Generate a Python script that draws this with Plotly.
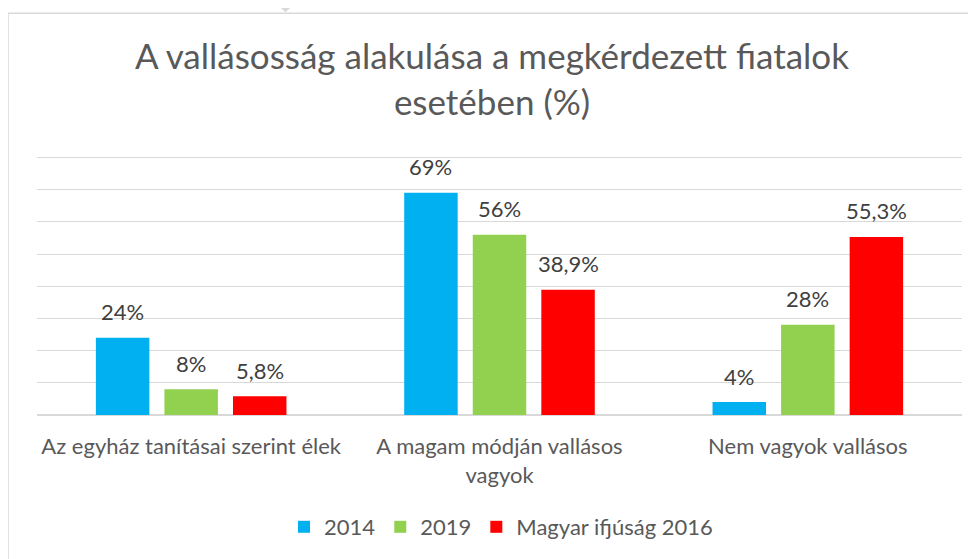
import plotly.graph_objects as go

categories = ["Az egyház tanításai szerint élek", "A magam módján vallásos<br>vagyok", "Nem vagyok vallásos"]
series_names = ["2014", "2019", "Magyar ifjúság 2016"]
values_2014 = [24, 69, 4]
values_2019 = [8, 56, 28]
values_2016 = [5.8, 38.9, 55.3]
labels_2014 = ["24%", "69%", "4%"]
labels_2019 = ["8%", "56%", "28%"]
labels_2016 = ["5,8%", "38,9%", "55,3%"]
grid_values = [0, 10, 20, 30, 40, 50, 60, 70, 80]
colors = ["#00b0f0", "#92d050", "#ff0000"]

# page body has an 8px margin, so figure coords = page coords - 8
OFF = 8
W, H = 976 - OFF, 559 - OFF
ML, MR, MT, MB = 37 - OFF, 14, 150.5 - OFF, 144
PW, PH = W - ML - MR, H - MT - MB

def px_x(x):
    return (x - OFF - ML) / PW

def px_y(y):
    return (H - MB - (y - OFF)) / PH

fig = go.Figure()
all_vals = [values_2014, values_2019, values_2016]
all_labels = [labels_2014, labels_2019, labels_2016]
for name, vals, col in zip(series_names, all_vals, colors):
    fig.add_trace(go.Bar(x=categories, y=vals, name=name, marker=dict(color=col, line=dict(width=0)),
                         hoverinfo="skip"))

cat_w = PW / len(categories)
slot = cat_w * (1 - 0.333) / 3
annotations = []
for i, (vals, labs) in enumerate(zip(all_vals, all_labels)):
    for c, v, t in zip(categories, vals, labs):
        annotations.append(dict(x=c, y=v, xref="x", yref="y", text=t, showarrow=False,
                                xshift=(i - 1) * slot, yshift=26, yanchor="middle",
                                font=dict(size=22, color="#404040", family="Lato")))

shapes = [
    dict(type="rect", xref="paper", yref="paper", x0=px_x(8), x1=px_x(1010), y0=px_y(12.5), y1=px_y(620),
         line=dict(color="#d9d9d9", width=1.5), fillcolor="rgba(0,0,0,0)", layer="below"),
    dict(type="path", xref="paper", yref="paper",
         path=f"M {px_x(272)} {px_y(-1)} L {px_x(299)} {px_y(-1)} L {px_x(285.5)} {px_y(11.5)} Z",
         line=dict(width=0), fillcolor="#d9d9d9", layer="below"),
]

fig.update_layout(
    width=W, height=H,
    margin=dict(l=ML, r=MR, t=MT, b=MB, autoexpand=False),
    paper_bgcolor="white", plot_bgcolor="white",
    barmode="group", bargap=0.333, bargroupgap=0.22,
    title=dict(text="A vallásosság alakulása a megkérdezett fiatalok<br>esetében (%)",
               x=0.5, xanchor="center", y=1 - 61 / H, yanchor="top",
               font=dict(size=35, color="#595959", family="Lato")),
    font=dict(family="Lato", color="#595959"),
    xaxis=dict(tickfont=dict(size=22, color="#595959"), showgrid=False, showline=False,
               ticks="", ticklabelstandoff=16, automargin=False),
    yaxis=dict(range=[0, 82], tickvals=grid_values, showticklabels=False,
               gridcolor="#d9d9d9", gridwidth=1.3, automargin=False,
               zeroline=True, zerolinecolor="#d9d9d9", zerolinewidth=1.6, showline=False),
    legend=dict(orientation="h", x=493 / W, xanchor="center", xref="container",
                y=1 - (527 - OFF) / H, yanchor="middle", yref="container",
                font=dict(size=22, color="#595959"), itemwidth=30, traceorder="normal"),
    annotations=annotations,
    shapes=shapes,
    showlegend=True,
)

fig.write_html("out.html")
